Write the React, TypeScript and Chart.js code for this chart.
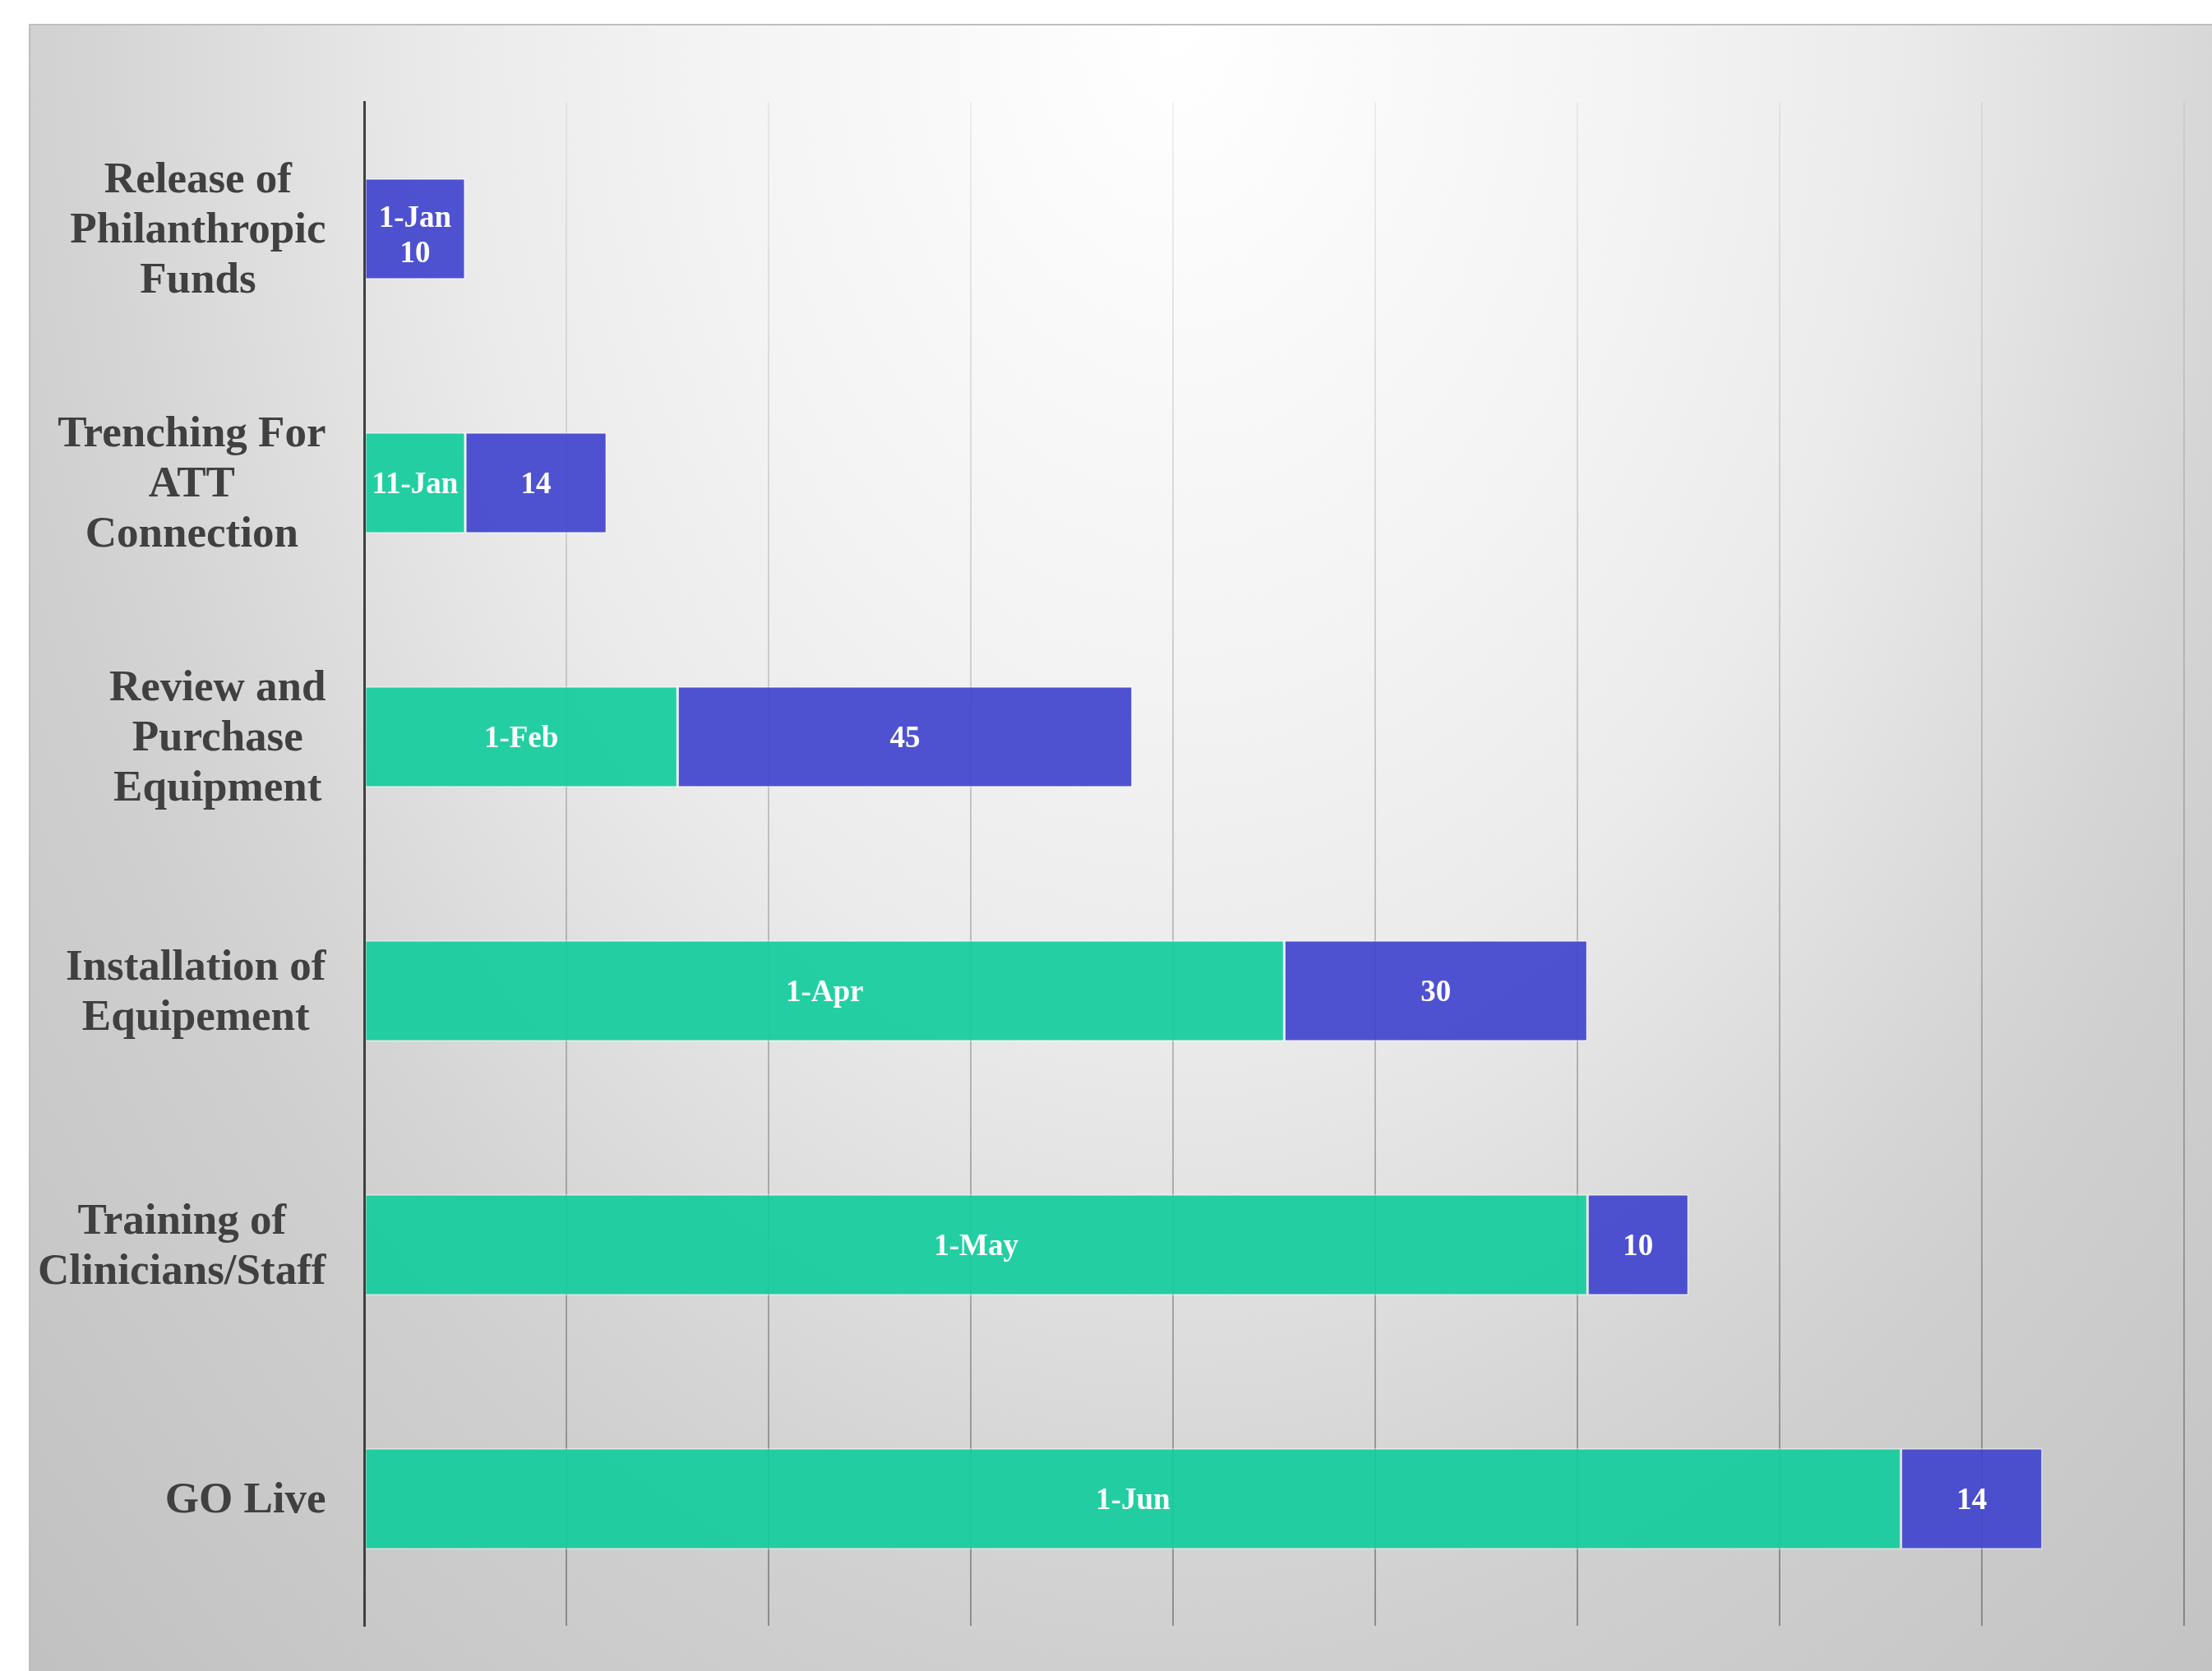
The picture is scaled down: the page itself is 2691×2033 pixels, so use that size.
import React, { useEffect, useRef } from 'react';
import { Chart, registerables } from 'chart.js';

Chart.register(...registerables);

// Task names, split into the lines shown on the axis
const categories: string[][] = [
  ['Release of', 'Philanthropic', 'Funds'],
  ['Trenching For', 'ATT', 'Connection'],
  ['Review and', 'Purchase', 'Equipment'],
  ['Installation of', 'Equipement'],
  ['Training of', 'Clinicians/Staff'],
  ['GO Live'],
];

// Start date expressed as days after 1-Jan
const startDays = [0, 10, 31, 91, 121, 152];
const startLabels = ['1-Jan', '11-Jan', '1-Feb', '1-Apr', '1-May', '1-Jun'];
// Duration in days
const durations = [10, 14, 45, 30, 10, 14];

const axisMin = 0;
const axisMax = 180;
const axisStep = 20;

const SERIF = '"Liberation Serif", "Times New Roman", serif';

const barLabelPlugin = {
  id: 'barLabels',
  afterDatasetsDraw(chart: any) {
    const ctx = chart.ctx;
    const m0 = chart.getDatasetMeta(0);
    const m1 = chart.getDatasetMeta(1);
    ctx.save();
    ctx.font = `bold 37px ${SERIF}`;
    ctx.fillStyle = '#ffffff';
    ctx.textAlign = 'center';
    ctx.textBaseline = 'middle';
    m0.data.forEach((g: any, i: number) => {
      const b: any = m1.data[i];
      const gx = (g.x + g.base) / 2;
      const bx = (b.x + b.base) / 2;
      if (startDays[i] === 0) {
        ctx.fillText(startLabels[i], bx, b.y - 12);
        ctx.fillText(String(durations[i]), bx, b.y + 31);
      } else {
        ctx.fillText(startLabels[i], gx, g.y + 3);
        ctx.fillText(String(durations[i]), bx, b.y + 3);
      }
    });
    ctx.restore();
  },
};

const categoryLabelPlugin = {
  id: 'categoryLabels',
  afterDraw(chart: any) {
    const ctx = chart.ctx;
    const yScale = chart.scales.y;
    const right = chart.chartArea.left - 46.5;
    const lineH = 61;
    ctx.save();
    ctx.font = `bold 53px ${SERIF}`;
    ctx.fillStyle = '#404040';
    ctx.textAlign = 'center';
    ctx.textBaseline = 'middle';
    categories.forEach((lines, i) => {
      const cy = yScale.getPixelForValue(i) + 3;
      const maxW = Math.max(...lines.map((l) => ctx.measureText(l).width));
      const cx = right - maxW / 2;
      lines.forEach((l, j) => {
        ctx.fillText(l, cx, cy + (j - (lines.length - 1) / 2) * lineH);
      });
    });
    ctx.restore();
  },
};

export default function App() {
  const ref = useRef<HTMLCanvasElement>(null);

  useEffect(() => {
    const gridColor = (c: any) => {
      const chart = c.chart;
      const area = chart.chartArea;
      if (!area) return 'rgba(0,0,0,0.15)';
      const g = chart.ctx.createLinearGradient(0, area.top, 0, area.bottom);
      g.addColorStop(0, 'rgba(0,0,0,0.05)');
      g.addColorStop(1, 'rgba(0,0,0,0.32)');
      return g;
    };

    const chart = new Chart(ref.current as HTMLCanvasElement, {
      type: 'bar',
      data: {
        labels: categories.map((l) => l.join(' ')),
        datasets: [
          {
            label: 'Start',
            data: startDays,
            backgroundColor: 'rgba(18,205,156,0.92)',
            borderColor: 'rgba(255,255,255,0.45)',
            borderWidth: 1.5,
            borderSkipped: false,
            barPercentage: 0.398,
            categoryPercentage: 1,
          },
          {
            label: 'Duration',
            data: durations,
            backgroundColor: 'rgba(64,68,206,0.92)',
            borderColor: 'rgba(255,255,255,0.45)',
            borderWidth: 1.5,
            borderSkipped: false,
            barPercentage: 0.398,
            categoryPercentage: 1,
          },
        ],
      },
      options: {
        indexAxis: 'y',
        responsive: false,
        animation: false,
        layout: { padding: { top: 93, right: 34, left: 0, bottom: 0 } },
        plugins: {
          legend: { display: false },
          tooltip: { enabled: false },
        },
        scales: {
          x: {
            stacked: true,
            min: axisMin,
            max: axisMax,
            ticks: { display: false, stepSize: axisStep },
            grid: { color: gridColor as any, lineWidth: 2, drawTicks: false },
            border: { display: false },
            afterFit: (s: any) => {
              s.height = 55;
            },
          },
          y: {
            stacked: true,
            ticks: { display: false },
            grid: { display: false, drawTicks: false },
            border: { display: true, color: '#404040', width: 3, z: 1 },
            afterFit: (s: any) => {
              s.width = 406;
            },
          },
        },
      } as any,
      plugins: [barLabelPlugin, categoryLabelPlugin],
    });
    return () => chart.destroy();
  }, []);

  return (
    <div
      style={{
        position: 'absolute',
        left: 35,
        top: 29,
        width: 2654,
        height: 2002,
        borderTop: '2px solid #bebebe',
        borderLeft: '2px solid #bebebe',
        background:
          'radial-gradient(ellipse 1450px 2004px at 1395px 0px, #ffffff 0%, #f3f3f3 40%, #ebebeb 60%, #e4e4e4 70%, #d5d5d5 90%, #cfcfcf 100%, #c0c0c0 141%)',
      }}
    >
      <canvas ref={ref} width={2654} height={2002} style={{ display: 'block' }} />
    </div>
  );
}
